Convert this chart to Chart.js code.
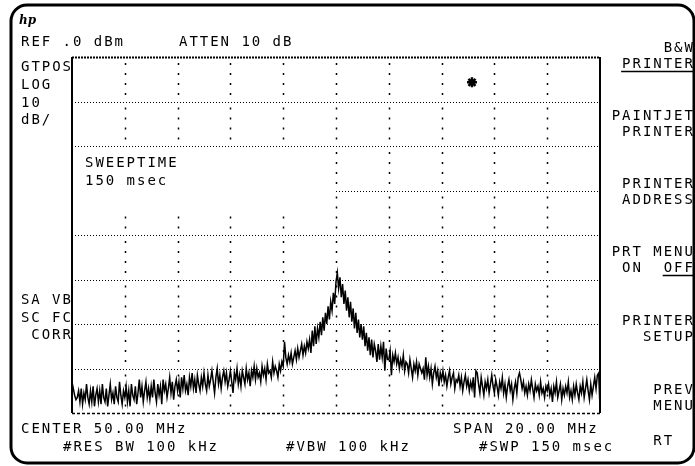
<!DOCTYPE html>
<html>
<head>
<meta charset="utf-8">
<script src="https://cdn.jsdelivr.net/npm/chart.js@4"></script>
<style>
  html, body { margin: 0; padding: 0; background: #fff; }
  #wrap { width: 695px; height: 466px; }
</style>
</head>
<body>
<div id="wrap"><canvas id="sa"></canvas></div>
<script>
// sweep: 40 - 60 MHz, ref 0 dBm, 10 dB/div, 401 sweep points
var START_MHZ = 40, STOP_MHZ = 60;
var FREQ_GRID = [40, 42, 44, 46, 48, 50, 52, 54, 56, 58, 60];
var LEVEL_GRID = [0, -10, -20, -30, -40, -50, -60, -70, -80];

var TRACE_DBM = [
  -73,-74.5,-76,-77,-76.5,-75,-77.5,-74.5,-78,-75.5,-77,-73.5,-76.5,-78,-75,-77.5,-74,-78.5,-76,-74.5,
  -77.5,-75,-78,-73.5,-76.5,-77.5,-74.5,-78.5,-76,-73.5,-77,-75.5,-78,-74,-76.5,-77.5,-73,-76,-78,-75,
  -76.5,-74,-77.5,-75,-78.5,-73.5,-76,-77,-74,-78,-75.5,-72.5,-76.5,-74,-77.5,-75,-73,-76.5,-74.5,-77,
  -74,-76.5,-72.5,-75.5,-77.5,-73.5,-76,-74,-78,-72.5,-75,-73.5,-76.5,-74.5,-72,-75.5,-73,-77,-74,-72.5,
  -75,-73,-76.5,-72,-74.5,-71.5,-75,-73.5,-76,-72,-74,-71,-74.5,-72.5,-75.5,-71.5,-73.5,-75,-72,-74,
  -71,-73.5,-75,-71.5,-74,-72.5,-70.5,-73,-75.5,-72,-70,-73.5,-71.5,-74.5,-72,-70.5,-73,-71,-74,-72.5,
  -70.5,-73,-75.5,-71,-72.5,-70,-73.5,-71.5,-74,-70.5,-72,-73.5,-70,-72.5,-71,-74,-70.5,-72,-69.5,-72.5,
  -70,-72,-71,-73,-69.5,-71.5,-70,-72.5,-69,-71,-70.5,-72,-68.5,-71,-69.5,-70.5,-72,-69,-70.5,-68.5,
  -69.5,-64,-67.5,-69,-67,-68.5,-66.5,-69,-67.5,-66,-68,-65.5,-67.5,-66,-64.5,-67,-65,-66.5,-64,-65.5,
  -63.5,-66.5,-61.5,-65,-60.5,-64.5,-61,-63,-59.5,-62.5,-58.5,-61.5,-57.5,-60,-56,-59,-55,-57,-53,-55.5,
  -50.5,-48.5,-52,-49.5,-54,-51,-55.5,-52.5,-57,-54,-58.5,-55,-59.5,-56.5,-61,-57.5,-62,-59,-63,-60,
  -63.5,-60.5,-65,-62,-66,-63,-67,-63.5,-67.5,-64.5,-66,-68.5,-64.5,-68,-65,-67.5,-64,-70.5,-65.5,-68,
  -68,-66,-71.5,-67,-68.5,-66.5,-69,-67.5,-70,-68,-69.5,-67,-70.5,-68.5,-69,-71,-68,-70,-72,-69,
  -70.5,-68.5,-71.5,-69,-70,-71,-70,-72.5,-67.5,-71.5,-69.5,-72,-70,-73.5,-71,-69.5,-72,-70.5,-74,-71,
  -72.5,-70.5,-73,-71.5,-74,-72,-70.5,-73.5,-72,-71,-74.5,-72.5,-73,-71.5,-74,-72,-75,-73,-71.5,-74,
  -72.5,-75,-73,-74.5,-72,-76.5,-70.5,-71,-73.5,-75.5,-72,-74,-76,-73,-74.5,-72.5,-75.5,-73.5,-71.5,-74,
  -75.5,-72.5,-74,-76,-73,-74.5,-72,-75.5,-73.5,-76.5,-74,-72.5,-75,-73.5,-77,-74.5,-73,-75.5,-72,-71,
  -72.5,-74.5,-73,-75.5,-74,-76,-73.5,-75,-72.5,-74.5,-76.5,-73.5,-75,-74,-76,-73,-75.5,-74.5,-76.5,-74,
  -75,-73.5,-76,-74.5,-77.5,-74,-75.5,-73,-76.5,-75,-73.5,-77,-74.5,-76,-74,-75.5,-73,-76.5,-75,-77,
  -74,-76,-73.5,-75.5,-77,-74,-75.5,-73,-76.5,-74.5,-72.5,-75,-77,-73.5,-76,-74,-72,-74.5,-71.5,-71,
  -79
];

var MARKER_MHZ = [55.15];
var MARKER_DBM = [-5.7];

var tracePts = [];
TRACE_DBM.forEach(function (v, i) {
  tracePts.push({ x: START_MHZ + i * (STOP_MHZ - START_MHZ) / (TRACE_DBM.length - 1), y: v });
});
var markerPts = MARKER_MHZ.map(function (f, i) { return { x: f, y: MARKER_DBM[i] }; });

// screen annotation text (HP 8590 style)
var ADV = 10.4;
var FONT = '14px "DejaVu Sans Mono"';

function txt(ctx, s, x, y) {
  for (var i = 0; i < s.length; i++) ctx.fillText(s[i], x + i * ADV, y);
}
function txtR(ctx, s, right, y) {
  txt(ctx, s, right - 7.5 - (s.length - 1) * ADV, y);
}
function uline(ctx, x1, x2, y) {
  ctx.save();
  ctx.lineWidth = 1.5;
  ctx.beginPath(); ctx.moveTo(x1, y); ctx.lineTo(x2, y); ctx.stroke();
  ctx.restore();
}

var screenText = {
  id: 'screenText',
  beforeDraw: function (chart) {
    var ctx = chart.ctx;
    ctx.save();
    ctx.fillStyle = '#fff';
    ctx.fillRect(0, 0, chart.width, chart.height);
    // bezel
    ctx.strokeStyle = '#000';
    ctx.lineWidth = 3;
    ctx.beginPath();
    ctx.roundRect(11, 5, 683, 458, 16);
    ctx.stroke();

    ctx.fillStyle = '#000';
    ctx.font = 'italic bold 12px "DejaVu Serif"';
    ctx.fillText('hp', 19, 24);

    ctx.font = FONT;
    txt(ctx, 'REF .0 dBm', 21, 46);
    txt(ctx, 'ATTEN 10 dB', 179, 46);
    txt(ctx, 'GTPOS', 21, 71);
    txt(ctx, 'LOG', 21, 89);
    txt(ctx, '10', 21, 107);
    txt(ctx, 'dB/', 21, 124);
    txtR(ctx, 'SA VB', 70, 304);
    txtR(ctx, 'SC FC', 70, 322);
    txtR(ctx, 'CORR', 70, 339);
    txt(ctx, 'CENTER 50.00 MHz', 21, 433);
    txt(ctx, '#RES BW 100 kHz', 63, 451);
    txt(ctx, '#VBW 100 kHz', 286, 451);
    txt(ctx, 'SPAN 20.00 MHz', 453, 433);
    txt(ctx, '#SWP 150 msec', 479, 451);

    // softkey menu
    var R = 692;
    txtR(ctx, 'B&W', R, 52);
    txtR(ctx, 'PRINTER', R, 68);
    uline(ctx, R - 7.5 - 6 * ADV - 1, R + 1, 71.5);
    txtR(ctx, 'PAINTJET', R, 120);
    txtR(ctx, 'PRINTER', R, 136);
    txtR(ctx, 'PRINTER', R, 188);
    txtR(ctx, 'ADDRESS', R, 204);
    txtR(ctx, 'PRT MENU', R, 256);
    txtR(ctx, ' ON  OFF', R, 272);
    uline(ctx, R - 7.5 - 2 * ADV - 1, R + 1, 275.5);
    txtR(ctx, 'PRINTER', R, 325);
    txtR(ctx, 'SETUP', R, 341);
    txtR(ctx, 'PREV', R, 394);
    txtR(ctx, 'MENU', R, 410);
    txt(ctx, 'RT', R - 7.5 - 3 * ADV, 445);
    ctx.restore();
  },
  beforeDatasetsDraw: function (chart) {
    var ctx = chart.ctx, xs = chart.scales.x, ys = chart.scales.y;
    var a = chart.chartArea;
    ctx.save();
    ctx.strokeStyle = '#000';
    // horizontal graticule
    LEVEL_GRID.forEach(function (v, i) {
      var y = Math.round(ys.getPixelForValue(v)) + 0.5;
      ctx.beginPath();
      if (i === 0) { ctx.lineWidth = 2; ctx.setLineDash([2, 1]); }
      else if (i === LEVEL_GRID.length - 1) { ctx.lineWidth = 1.6; ctx.setLineDash([3, 2]); }
      else { ctx.lineWidth = 1; ctx.setLineDash([1, 2]); }
      ctx.moveTo(a.left, y); ctx.lineTo(a.right, y);
      ctx.stroke();
    });
    // vertical graticule (sparse dots)
    ctx.lineWidth = 1.5;
    ctx.setLineDash([2, 8]);
    FREQ_GRID.slice(1, -1).forEach(function (f) {
      var x = Math.round(xs.getPixelForValue(f)) + 0.5;
      for (var j = 0; j < LEVEL_GRID.length - 1; j++) {
        var y0 = ys.getPixelForValue(LEVEL_GRID[j]), y1 = ys.getPixelForValue(LEVEL_GRID[j + 1]);
        ctx.beginPath();
        ctx.moveTo(x, y0 + 6); ctx.lineTo(x, y1 - 3);
        ctx.stroke();
      }
    });
    ctx.setLineDash([]);
    // solid side borders
    ctx.lineWidth = 2;
    ctx.beginPath();
    ctx.moveTo(a.left, a.top); ctx.lineTo(a.left, a.bottom);
    ctx.moveTo(a.right, a.top); ctx.lineTo(a.right, a.bottom);
    ctx.stroke();
    // sweeptime annotation box
    var bx0 = a.left + 1.5, bx1 = xs.getPixelForValue(50) - 2;
    var by0 = ys.getPixelForValue(-20) + 2, by1 = ys.getPixelForValue(-35) - 1;
    ctx.fillStyle = '#fff';
    ctx.fillRect(bx0, by0, bx1 - bx0, by1 - by0);
    ctx.fillStyle = '#000';
    ctx.font = FONT;
    txt(ctx, 'SWEEPTIME', 85, 167);
    txt(ctx, '150 msec', 85, 185);
    ctx.restore();
  }
};

new Chart(document.getElementById('sa'), {
  type: 'line',
  data: {
    datasets: [{
      data: tracePts,
      borderColor: '#000',
      borderWidth: 1.5,
      pointRadius: 0,
      tension: 0
    }, {
      type: 'scatter',
      data: markerPts,
      pointStyle: 'star',
      pointRadius: 5,
      borderWidth: 2.5,
      borderColor: '#000',
      backgroundColor: '#000'
    }]
  },
  options: {
    responsive: true,
    maintainAspectRatio: false,
    animation: false,
    layout: { padding: { left: 72, top: 57, right: 95, bottom: 53 } },
    plugins: { legend: { display: false }, tooltip: { enabled: false } },
    scales: {
      x: { type: 'linear', min: START_MHZ, max: STOP_MHZ, display: false },
      y: { min: -80, max: 0, display: false }
    }
  },
  plugins: [screenText]
});
</script>
</body>
</html>
